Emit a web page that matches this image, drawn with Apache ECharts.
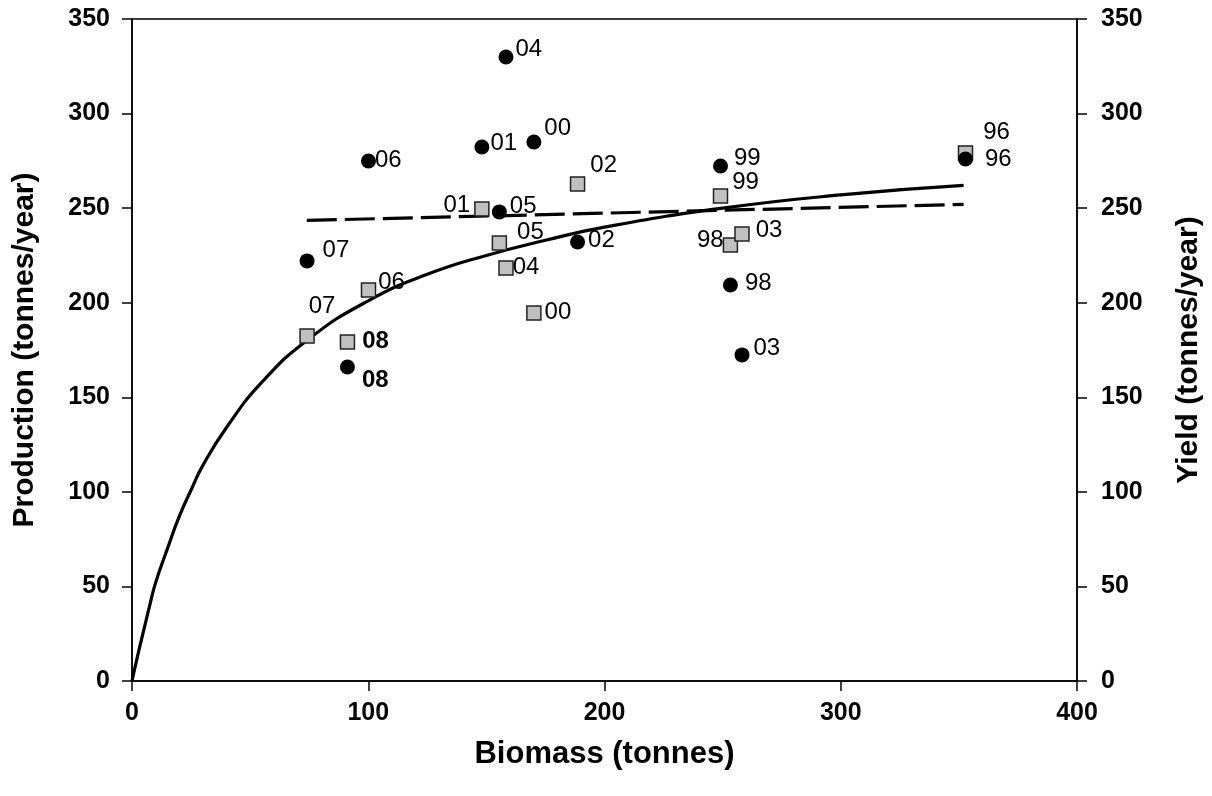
<!DOCTYPE html>
<html>
<head>
<meta charset="utf-8">
<script src="https://cdn.jsdelivr.net/npm/echarts@6/dist/echarts.min.js"></script>
<style>
html,body{margin:0;padding:0;background:#fff;}
#chart{width:1212px;height:796px;}
</style>
</head>
<body>
<div id="chart"></div>
<script>
// ---- data ----
const years      = ['96','98','99','00','01','02','03','04','05','06','07','08'];
const biomass    = [352.8, 253.3, 249.1, 170.1, 148.1, 188.6, 258.2, 158.3, 155.5, 100.1, 74.1, 91.2];
const production = [276.0, 209.4, 272.3, 285.0, 282.3, 232.1, 172.4, 329.9, 248.0, 274.9, 222.1, 166.0];
const yieldVals  = [279.2, 230.5, 256.4, 194.6, 249.6, 262.8, 236.3, 218.4, 231.6, 206.7, 182.4, 179.2];
// fitted production curve
const curveX = [0, 2.5, 5, 7.5, 10, 15, 20, 25, 30, 40, 55, 75, 100, 125, 150, 175, 200, 250, 300, 352];
const curveY = [0, 14, 27, 40, 52, 70, 87, 101, 114, 134, 158, 181, 201, 215, 225, 233, 240, 250, 257, 262];
// fitted yield line
const dashX = [74, 352];
const dashY = [243.5, 252];
const xTicks = [0, 100, 200, 300, 400];
const yTicks = [0, 50, 100, 150, 200, 250, 300, 350];

// ---- label layout (not data) ----
const circleLabelPos = ['right','right','right','right','right','right','right','right','right','right','right','right'];
const circleLabelOff = [[12,0],[7,-2],[6,-8],[3,-14],[1,-4],[3,-2],[4,-7],[2,-8],[3,-6],[-1,-1],[8,-11],[7,13]];
const squareLabelPos = ['right','left','right','right','left','right','right','right','right','right','top','right'];
const squareLabelOff = [[10,-21],[1,-5],[4,-14],[3,-1],[-4,-4],[5,-19],[6,-4],[-1,-1],[10,-11],[2,-8],[15,-10],[7,-1]];
const boldYears = ['08'];

const FONT = "'Liberation Sans', Arial, sans-serif";

function pointData(ys, pos, off) {
  return years.map((yr, i) => ({
    value: [biomass[i], ys[i]],
    label: {
      show: true,
      formatter: yr,
      position: pos[i],
      distance: 0,
      offset: off[i],
      fontWeight: boldYears.includes(yr) ? 'bold' : 'normal'
    }
  }));
}

const chart = echarts.init(document.getElementById('chart'), null, {renderer: 'canvas'});

const axisCommon = {
  type: 'value',
  min: 0,
  max: 350,
  interval: 50,
  axisLine: {show: true, lineStyle: {color: '#000', width: 1.5}},
  axisTick: {show: true, inside: false, length: 10, lineStyle: {color: '#000', width: 1.5}},
  splitLine: {show: false},
  axisLabel: {color: '#000', fontFamily: FONT, fontWeight: 'bold', fontSize: 25, margin: 22,
    formatter: v => yTicks.includes(v) ? String(v) : ''},
  nameLocation: 'middle',
  nameTextStyle: {color: '#000', fontFamily: FONT, fontWeight: 'bold', fontSize: 30}
};

chart.setOption({
  animation: false,
  backgroundColor: '#fff',
  textStyle: {fontFamily: FONT},
  grid: {left: 132, right: 135, top: 19, bottom: 115, show: true, borderColor: '#000', borderWidth: 1.5},
  xAxis: {
    type: 'value',
    min: 0, max: 400, interval: 100,
    axisLine: {show: true, onZero: false, lineStyle: {color: '#000', width: 1.5}},
    axisTick: {show: true, inside: false, length: 10, lineStyle: {color: '#000', width: 1.5}},
    splitLine: {show: false},
    axisLabel: {color: '#000', fontFamily: FONT, fontWeight: 'bold', fontSize: 25, margin: 20,
      formatter: v => xTicks.includes(v) ? String(v) : ''},
    name: 'Biomass (tonnes)',
    nameLocation: 'middle',
    nameGap: 58,
    nameTextStyle: {color: '#000', fontFamily: FONT, fontWeight: 'bold', fontSize: 31}
  },
  yAxis: [
    Object.assign({}, axisCommon, {position: 'left', name: 'Production (tonnes/year)', nameGap: 92}),
    Object.assign({}, axisCommon, {position: 'right', name: 'Yield (tonnes/year)', nameGap: 97,
      axisLabel: Object.assign({}, axisCommon.axisLabel, {margin: 24})})
  ],
  series: [
    {
      type: 'line',
      yAxisIndex: 0,
      data: curveX.map((x, i) => [x, curveY[i]]),
      smooth: 0.5,
      showSymbol: false,
      symbol: 'none',
      lineStyle: {color: '#000', width: 3.2},
      z: 2
    },
    {
      type: 'line',
      yAxisIndex: 1,
      data: dashX.map((x, i) => [x, dashY[i]]),
      showSymbol: false,
      symbol: 'none',
      lineStyle: {color: '#000', width: 3.2, type: [30, 8]},
      z: 2
    },
    {
      type: 'scatter',
      yAxisIndex: 1,
      symbol: 'rect',
      symbolSize: 14,
      itemStyle: {color: '#c0c0c0', borderColor: '#222', borderWidth: 1.5, opacity: 1},
      label: {color: '#000', fontFamily: FONT, fontSize: 24, opacity: 1},
      emphasis: {disabled: true},
      data: pointData(yieldVals, squareLabelPos, squareLabelOff),
      z: 3
    },
    {
      type: 'scatter',
      yAxisIndex: 0,
      symbol: 'circle',
      symbolSize: 15,
      itemStyle: {color: '#000', opacity: 1},
      label: {color: '#000', fontFamily: FONT, fontSize: 24, opacity: 1},
      emphasis: {disabled: true},
      data: pointData(production, circleLabelPos, circleLabelOff),
      z: 4
    }
  ]
});
</script>
</body>
</html>
